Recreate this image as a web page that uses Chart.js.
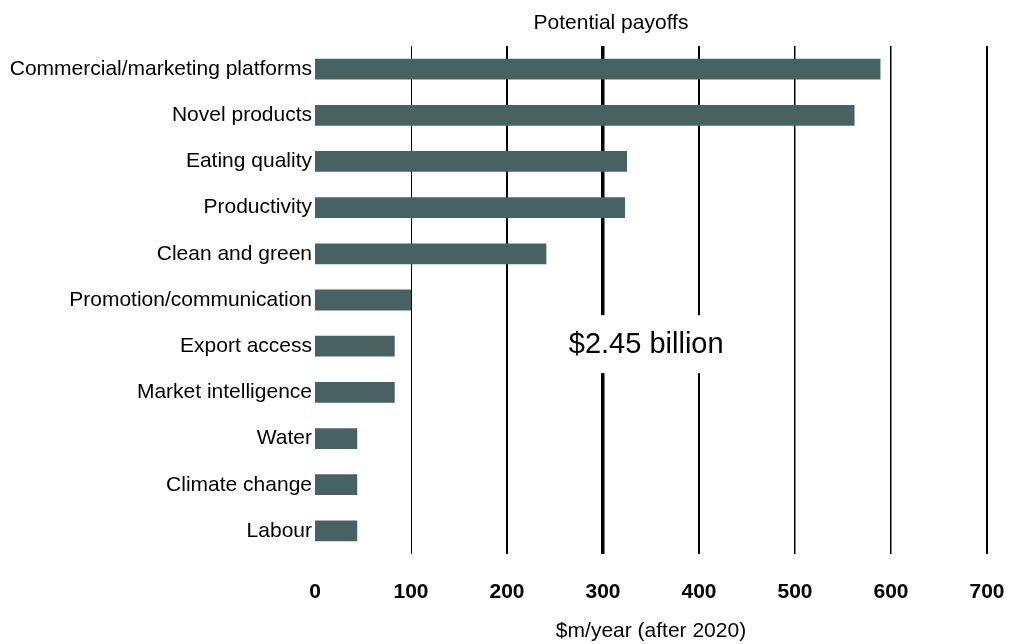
<!DOCTYPE html>
<html>
<head>
<meta charset="utf-8">
<script src="https://cdn.jsdelivr.net/npm/chart.js@4/dist/chart.umd.min.js"></script>
<style>
  html, body { margin: 0; padding: 0; background: #ffffff; }
  #wrap { width: 1012px; height: 644px; position: relative; }
</style>
</head>
<body>
<div id="wrap"><canvas id="c" width="1012" height="644"></canvas></div>
<script>
const categories = [
  "Commercial/marketing platforms",
  "Novel products",
  "Eating quality",
  "Productivity",
  "Clean and green",
  "Promotion/communication",
  "Export access",
  "Market intelligence",
  "Water",
  "Climate change",
  "Labour"
];
const payoffs = [589, 562, 325, 323, 241, 100, 83, 83, 44, 44, 44];
const xTicks = [0, 100, 200, 300, 400, 500, 600, 700];
const chartTitle = "Potential payoffs";
const xTitle = "$m/year (after 2020)";
const totalLabel = "$2.45 billion";

const gridWidths = {0: 0, 100: 1, 200: 2, 300: 3.5, 400: 2, 500: 1.5, 600: 1.5, 700: 2};

const overlayPlugin = {
  id: 'overlay',
  afterDraw(chart) {
    const ctx = chart.ctx;
    const ca = chart.chartArea;
    const xs = chart.scales.x;
    const ys = chart.scales.y;
    ctx.save();
    // title
    ctx.font = '21px "Liberation Sans", Arial, sans-serif';
    ctx.fillStyle = '#000';
    ctx.textAlign = 'center';
    ctx.textBaseline = 'middle';
    ctx.fillText(chartTitle, (ca.left + ca.right) / 2 - 40, 23);
    // total annotation with white box
    const cx = xs.getPixelForValue(345);
    const cy = ys.getPixelForValue(6) - 1;
    ctx.fillStyle = '#fff';
    ctx.fillRect(cx - 88, cy - 30, 176, 58);
    ctx.fillStyle = '#000';
    ctx.font = '29px "Liberation Sans", Arial, sans-serif';
    ctx.fillText(totalLabel, cx, cy);
    ctx.restore();
  }
};

new Chart(document.getElementById('c'), {
  type: 'bar',
  data: {
    labels: categories,
    datasets: [{
      data: payoffs,
      backgroundColor: '#466262',
      borderWidth: 0,
      categoryPercentage: 1.0,
      barPercentage: 0.45
    }]
  },
  options: {
    indexAxis: 'y',
    responsive: false,
    animation: false,
    devicePixelRatio: 1,
    layout: { padding: { top: 46, right: 25, bottom: 0, left: 0 } },
    plugins: {
      legend: { display: false },
      title: { display: false },
      tooltip: { enabled: false }
    },
    scales: {
      x: {
        type: 'linear',
        min: 0,
        max: 700,
        afterBuildTicks(scale) { scale.ticks = xTicks.map(v => ({ value: v })); },
        afterFit(scale) { scale.height = 90; },
        border: { display: false },
        grid: {
          color: '#000',
          lineWidth: ctx => (ctx.tick ? (gridWidths[ctx.tick.value] ?? 1) : 1),
          drawTicks: true,
          tickLength: 26,
          tickColor: 'rgba(0,0,0,0)'
        },
        ticks: {
          color: '#000',
          padding: 0,
          maxRotation: 0,
          font: { family: '"Liberation Sans", Arial, sans-serif', size: 21, weight: 'bold' }
        },
        title: {
          display: true,
          text: xTitle,
          color: '#000',
          padding: { top: 12, bottom: 0 },
          font: { family: '"Liberation Sans", Arial, sans-serif', size: 21 }
        }
      },
      y: {
        border: { display: false },
        grid: { display: false, drawTicks: false },
        afterFit(scale) { scale.width = 315; },
        ticks: {
          color: '#000',
          padding: 3,
          autoSkip: false,
          font: { family: '"Liberation Sans", Arial, sans-serif', size: 21 }
        }
      }
    }
  },
  plugins: [overlayPlugin]
});
</script>
</body>
</html>
